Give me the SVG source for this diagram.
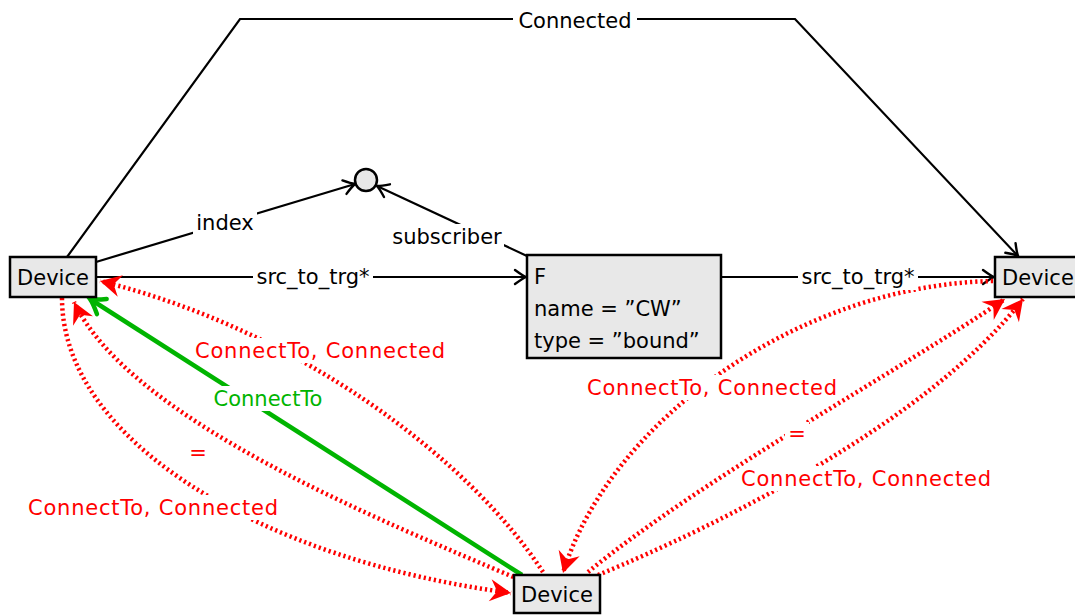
<svg xmlns="http://www.w3.org/2000/svg" width="1075" height="615" viewBox="0 0 1075 615">
<style>
.node{fill:#e8e8e8;stroke:#000;stroke-width:2.5}
.t{font-family:"DejaVu Sans",sans-serif;font-size:21px;fill:#000}
.c{text-anchor:middle}
.blk{fill:none;stroke:#000;stroke-width:2.2}
.red{fill:none;stroke:#ff0000;stroke-width:4.5;stroke-dasharray:2.2 3}
.grn{fill:none;stroke:#00b400;stroke-width:4.5}
.bg{fill:#fff}
.rt{fill:#ff0000}
.gt{fill:#00b400}
</style>
<defs>
<marker id="ab" markerUnits="userSpaceOnUse" markerWidth="24" markerHeight="24" viewBox="-14 -12 16 24" refX="0" refY="0" orient="auto">
<path d="M-11,-7 Q-3.5,-1.5 0,0 Q-3.5,1.5 -11,7" fill="none" stroke="#000" stroke-width="2.4" stroke-linecap="round"/>
</marker>
<marker id="ar" markerUnits="userSpaceOnUse" markerWidth="30" markerHeight="30" viewBox="-25 -15 27 30" refX="0" refY="0" orient="auto">
<path d="M0,0 L-21,-11 L-14,0 L-21,11 Z" fill="#ff0000" stroke="none"/>
</marker>
<marker id="ag" markerUnits="userSpaceOnUse" markerWidth="30" markerHeight="30" viewBox="-20 -15 24 30" refX="0" refY="0" orient="auto">
<path d="M-14,-9 Q-5,-2 0,0 Q-5,2 -14,9" fill="none" stroke="#00b400" stroke-width="4.5" stroke-linecap="round"/>
</marker>
</defs>
<g id="connectors">
<polyline class="blk" points="67,257 240,19 795,19 1018,256" marker-end="url(#ab)"/>
<line class="blk" x1="96" y1="262" x2="355" y2="184" marker-end="url(#ab)"/>
<line class="blk" x1="527" y1="256" x2="377" y2="186" marker-end="url(#ab)"/>
<line class="blk" x1="96" y1="277" x2="526" y2="277" marker-end="url(#ab)"/>
<line class="blk" x1="721" y1="277" x2="994" y2="277" marker-end="url(#ab)"/>
<line class="grn" x1="522" y1="575" x2="90" y2="299" marker-end="url(#ag)"/>
<path class="red" d="M543,572 C470,460 300,330 100,281" marker-end="url(#ar)"/>
<path class="red" d="M518,579 C380,520 130,420 74,302" marker-end="url(#ar)"/>
<path class="red" d="M62,298 C62,440 260,560 511,593" marker-end="url(#ar)"/>
<path class="red" d="M993,281 C800,285 610,420 563,573" marker-end="url(#ar)"/>
<path class="red" d="M588,572 C700,480 900,370 1005,299" marker-end="url(#ar)"/>
<path class="red" d="M598,575 C720,525 930,420 1023,299" marker-end="url(#ar)"/>
<rect class="bg" x="513" y="8" width="124" height="25"/>
<text class="t c" x="575" y="28">Connected</text>
<rect class="bg" x="193" y="210" width="64" height="25"/>
<text class="t c" x="225" y="230">index</text>
<rect class="bg" x="390" y="224" width="114" height="26"/>
<text class="t c" x="447" y="244">subscriber</text>
<rect class="bg" x="253" y="264" width="120" height="26"/>
<text class="t c" x="313" y="284">src_to_trg*</text>
<rect class="bg" x="798" y="264" width="120" height="26"/>
<text class="t c" x="858" y="284">src_to_trg*</text>
<rect class="bg" x="194" y="338" width="252" height="25"/>
<text class="t c rt" x="320" y="358" textLength="250">ConnectTo, Connected</text>
<rect class="bg" x="208" y="386" width="120" height="25"/>
<text class="t c gt" x="268" y="406">ConnectTo</text>
<rect class="bg" x="186" y="441" width="24" height="22"/>
<text class="t c rt" x="198" y="460">=</text>
<rect class="bg" x="27" y="495" width="252" height="25"/>
<text class="t c rt" x="153" y="515" textLength="250">ConnectTo, Connected</text>
<rect class="bg" x="586" y="375" width="252" height="25"/>
<text class="t c rt" x="712" y="395" textLength="250">ConnectTo, Connected</text>
<rect class="bg" x="785" y="422" width="24" height="22"/>
<text class="t c rt" x="797" y="441">=</text>
<rect class="bg" x="740" y="466" width="252" height="25"/>
<text class="t c rt" x="866" y="486" textLength="250">ConnectTo, Connected</text>
</g>
<g id="n-circle"><circle class="node" cx="366" cy="180" r="11" stroke-width="2"/></g>
<g id="n-left"><rect class="node" x="10" y="257" width="86" height="40"/><text class="t c" x="53" y="285">Device</text></g>
<g id="n-f"><rect class="node" x="527" y="255" width="194" height="103"/>
<text class="t" x="534" y="284">F</text>
<text class="t" x="534" y="316">name = ”CW”</text>
<text class="t" x="534" y="348">type = ”bound”</text></g>
<g id="n-right"><rect class="node" x="995" y="257" width="90" height="40"/><text class="t" x="1002" y="285">Device</text></g>
<g id="n-bottom"><rect class="node" x="514" y="575" width="86" height="38"/><text class="t c" x="557" y="602">Device</text></g>
</svg>
